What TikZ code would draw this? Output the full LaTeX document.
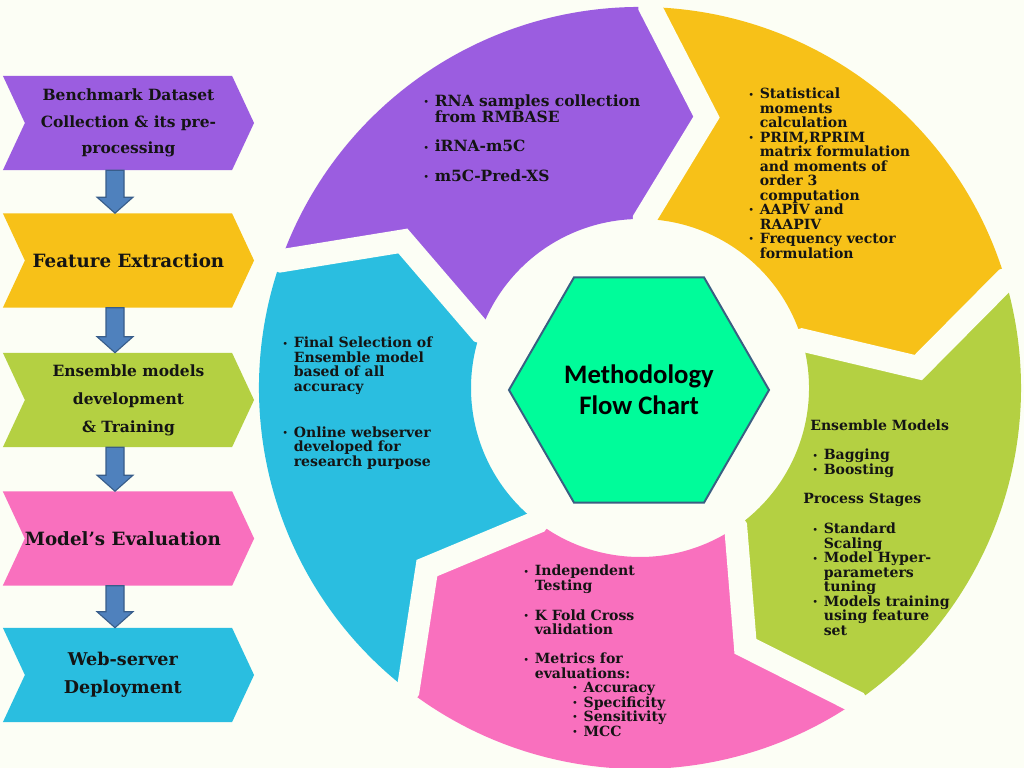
\documentclass[tikz,border=0pt]{standalone}
\usepackage{fontspec}
\setmainfont{DejaVu Serif}
\newfontfamily\hubfont{Carlito}
\usetikzlibrary{calc,shapes.geometric,shapes.symbols}

\definecolor{bgcol}{HTML}{FCFEF5}
\definecolor{cpurple}{HTML}{9B5DE0}
\definecolor{corange}{HTML}{F7C118}
\definecolor{cgreen}{HTML}{B4D042}
\definecolor{cpink}{HTML}{F970BE}
\definecolor{cblue}{HTML}{2ABEE0}
\definecolor{chub}{HTML}{00FC9A}
\definecolor{chubline}{HTML}{3A5F82}
\definecolor{carrow}{HTML}{4F81BD}
\definecolor{carrowline}{HTML}{385D8A}
\definecolor{ink}{HTML}{141414}

\newcommand{\bul}{\makebox[8.2pt][l]{\raisebox{0.6pt}{\mdseries\fontsize{7}{7}\selectfont\textbullet}}}
\newcommand{\bulgap}{\hspace*{8.2pt}}

\begin{document}
\begin{tikzpicture}[x=0.025cm,y=0.025cm,
  chev/.style={signal,signal to=east,signal from=west,signal pointer angle=130,
    minimum width=6.275cm,minimum height=2.35cm,inner sep=0pt,align=center,text=ink},
  lst/.style={anchor=north west,inner sep=0pt,align=left,text=ink,font=\bfseries\fontsize{10}{10.3}\selectfont},
  blockarr/.style={fill=carrow,draw=carrowline,line width=0.8pt,line join=miter},
  gapline/.style={draw=bgcol,line width=0.575cm,line join=miter},
  hexa/.style={regular polygon,regular polygon sides=6,minimum size=6.5cm,fill=chub,draw=chubline,
    line width=1.4pt,align=center,inner sep=0pt,font=\hubfont\bfseries\fontsize{19}{22}\selectfont}]
\fill[bgcol] (0,0) rectangle (1024,768);
\useasboundingbox (0,0) rectangle (1024,768);

% left column of steps
\node[chev,fill=cpurple,font=\bfseries\fontsize{11}{19}\selectfont] (c1) at (128.5,645) {Benchmark Dataset\\Collection \& its pre-\\processing};
\node[chev,fill=corange,font=\bfseries\fontsize{13}{20}\selectfont] (c2) at (128.5,507.5) {Feature Extraction};
\node[chev,fill=cgreen,font=\bfseries\fontsize{11}{20}\selectfont] (c3) at (128.5,368) {Ensemble models\\development\\\& Training};
\node[chev,fill=cpink,font=\bfseries\fontsize{13}{20}\selectfont] (c4) at (128.5,229.5) {Model's Evaluation\hspace*{8pt}};
\node[chev,fill=cblue,font=\bfseries\fontsize{12.5}{20}\selectfont] (c5) at (128.5,93) {Web-server\hspace*{8pt}\\Deployment\hspace*{8pt}};
\foreach \a/\b in {c1/c2,c2/c3,c3/c4,c4/c5} {
  \coordinate (top) at ($(\a.south)+(-13.5,0)$);
  \coordinate (tip) at ($(\b.north)+(-13.5,0)$);
  \draw[blockarr] ($(top)+(-9,0)$) -- ($(top)+(9,0)$) -- ($(tip)+(9,16)$) -- ($(tip)+(18,16)$)
    -- (tip) -- ($(tip)+(-18,16)$) -- ($(tip)+(-9,16)$) -- cycle;
}

% ring of five segments
\begin{scope}[shift={(640,380)}]
\foreach \col [count=\k from 0] in {cpurple,corange,cgreen,cpink,cblue} {
  \pgfmathsetmacro\bs{160.5-72*\k}
  \pgfmathsetmacro\be{\bs-72}
  \pgfmathsetmacro\ps{\bs-12.3}
  \pgfmathsetmacro\pe{\be-12.3}
  \fill[\col] (\bs:381) arc[start angle=\bs,end angle=\be,radius=9.525cm] -- (\pe:279)
    -- (\be:169) arc[start angle=\be,end angle=\bs,radius=4.225cm] -- (\ps:279) -- cycle;
}
\foreach \k in {0,...,4} {
  \pgfmathsetmacro\bs{160.5-72*\k}
  \pgfmathsetmacro\ps{\bs-12.3}
  \draw[gapline] (\bs:395) -- (\bs:381) -- (\ps:279) -- (\bs:169) -- (\bs:155);
}
\end{scope}

\node[hexa] (hub) at (639,378) {Methodology\\Flow Chart};

% texts on the ring
\node[lst,font=\bfseries\fontsize{11}{10.5}\selectfont] (pList) at (423,674) {\bul RNA samples collection\\\bulgap from RMBASE\\[10.5pt]
  \bul iRNA-m5C\\[10.5pt]\bul m5C-Pred-XS};
\node[lst] (oList) at (748,680) {\bul Statistical\\\bulgap moments\\\bulgap calculation\\
  \bul PRIM,RPRIM\\\bulgap matrix formulation\\\bulgap and moments of\\\bulgap order 3\\\bulgap computation\\
  \bul AAPIV and\\\bulgap RAAPIV\\\bul Frequency vector\\\bulgap formulation};
\node[lst] (gHead1) at (810,348) {Ensemble Models};
\node[lst] (gList1) at (812,319) {\bul Bagging\\\bul Boosting};
\node[lst] (gHead2) at (803,275) {Process Stages};
\node[lst] (gList2) at (812,245) {\bul Standard\\\bulgap Scaling\\\bul Model Hyper-\\\bulgap parameters\\\bulgap tuning\\
  \bul Models training\\\bulgap using feature\\\bulgap set};
\node[lst] (kList) at (523,203) {\bul Independent\\\bulgap Testing\\[11pt]\bul K Fold Cross\\\bulgap validation\\[10.3pt]
  \bul Metrics for\\\bulgap evaluations:\\\hspace*{34.7pt}\bul Accuracy\\\hspace*{34.7pt}\bul Specificity\\
  \hspace*{34.7pt}\bul Sensitivity\\\hspace*{34.7pt}\bul MCC};
\node[lst] (bList) at (282,431) {\bul Final Selection of\\\bulgap Ensemble model\\\bulgap based of all\\\bulgap accuracy\\[22.3pt]
  \bul Online webserver\\\bulgap developed for\\\bulgap research purpose};
\end{tikzpicture}
\end{document}
